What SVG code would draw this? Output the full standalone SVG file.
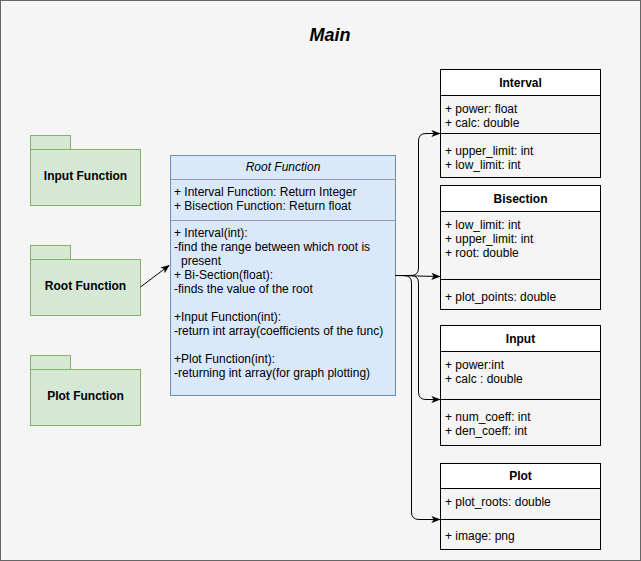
<svg xmlns="http://www.w3.org/2000/svg" width="641" height="561" viewBox="0 0 641 561">
<defs>
<style>
text{font-family:"Liberation Sans",Arial,Helvetica,sans-serif;font-size:12px;fill:#000}
.b{font-weight:bold}
.c{text-anchor:middle}
.pkg{fill:#d5e8d4;stroke:#82b366;stroke-width:1}
.cls{fill:#f5f5f5;stroke:#000;stroke-width:1}
.hdr{fill:#ffffff;stroke:#000;stroke-width:1}
.sep{stroke:#000;stroke-width:1}
.edge{fill:none;stroke:#000;stroke-width:1}
</style>
<marker id="arr" viewBox="0 0 10 10" refX="9" refY="5" markerWidth="9" markerHeight="9" markerUnits="userSpaceOnUse" orient="auto">
<path d="M0,1 L10,5 L0,9 L2.5,5 Z" fill="#000"/>
</marker>
</defs>
<rect x="0.5" y="0.5" width="640" height="560" fill="#f5f5f5" stroke="#666"/>
<text x="330" y="41" class="b c" style="font-size:18px;font-style:italic">Main</text>

<g id="pkg-input">
<rect class="pkg" x="30.5" y="135.5" width="40" height="14"/>
<rect class="pkg" x="30.5" y="149.5" width="110" height="56"/>
<text x="85.5" y="180" class="b c">Input Function</text>
</g>
<g id="pkg-root">
<rect class="pkg" x="30.5" y="245.5" width="40" height="14"/>
<rect class="pkg" x="30.5" y="259.5" width="110" height="56"/>
<text x="85.5" y="290" class="b c">Root Function</text>
</g>
<g id="pkg-plot">
<rect class="pkg" x="30.5" y="355.5" width="40" height="14"/>
<rect class="pkg" x="30.5" y="369.5" width="110" height="56"/>
<text x="85.5" y="400" class="b c">Plot Function</text>
</g>

<g id="root-function">
<rect x="170.5" y="155.5" width="225" height="240" fill="#dae8fc" stroke="#6c8ebf"/>
<line x1="170.5" y1="179.5" x2="395.5" y2="179.5" stroke="#999"/>
<line x1="170.5" y1="220.5" x2="395.5" y2="220.5" stroke="#999"/>
<text x="283" y="171" class="c" style="font-style:italic">Root Function</text>
<text x="174" y="196">+ Interval Function: Return Integer</text>
<text x="174" y="210">+ Bisection Function: Return float</text>
<text x="174" y="237">+ Interval(int):</text>
<text x="174" y="251">-find the range between which root is</text>
<text x="181" y="265">present</text>
<text x="174" y="279">+ Bi-Section(float):</text>
<text x="174" y="293">-finds the value of the root</text>
<text x="174" y="321">+Input Function(int):</text>
<text x="174" y="335">-return int array(coefficients of the func)</text>
<text x="174" y="363">+Plot Function(int):</text>
<text x="174" y="377">-returning int array(for graph plotting)</text>
</g>

<g id="interval">
<rect class="cls" x="440.5" y="69.5" width="160" height="108"/>
<rect class="hdr" x="440.5" y="69.5" width="160" height="26"/>
<line class="sep" x1="440.5" y1="133.5" x2="600.5" y2="133.5"/>
<text x="520.5" y="87" class="b c">Interval</text>
<text x="445" y="113">+ power: float</text>
<text x="445" y="127">+ calc: double</text>
<text x="445" y="155">+ upper_limit: int</text>
<text x="445" y="169">+ low_limit: int</text>
</g>
<g id="bisection">
<rect class="cls" x="440.5" y="185.5" width="160" height="124"/>
<rect class="hdr" x="440.5" y="185.5" width="160" height="26"/>
<line class="sep" x1="440.5" y1="279.5" x2="600.5" y2="279.5"/>
<text x="520.5" y="203" class="b c">Bisection</text>
<text x="445" y="229">+ low_limit: int</text>
<text x="445" y="243">+ upper_limit: int</text>
<text x="445" y="257">+ root: double</text>
<text x="445" y="301">+ plot_points: double</text>
</g>
<g id="input">
<rect class="cls" x="440.5" y="325.5" width="160" height="120"/>
<rect class="hdr" x="440.5" y="325.5" width="160" height="26"/>
<line class="sep" x1="440.5" y1="399.5" x2="600.5" y2="399.5"/>
<text x="520.5" y="343" class="b c">Input</text>
<text x="445" y="369">+ power:int</text>
<text x="445" y="383">+ calc : double</text>
<text x="445" y="421">+ num_coeff: int</text>
<text x="445" y="435">+ den_coeff: int</text>
</g>
<g id="plot">
<rect class="cls" x="440.5" y="463.5" width="160" height="86"/>
<rect class="hdr" x="440.5" y="463.5" width="160" height="25"/>
<line class="sep" x1="440.5" y1="519.5" x2="600.5" y2="519.5"/>
<text x="520.5" y="480" class="b c">Plot</text>
<text x="445" y="506">+ plot_roots: double</text>
<text x="445" y="540">+ image: png</text>
</g>

<g id="connectors">
<path class="edge" d="M140.5,287 L169,265.5" marker-end="url(#arr)"/>
<path class="edge" d="M395.5,275.5 L411,275.5 Q418.5,275.5 418.5,268 L418.5,141 Q418.5,133.5 426,133.5 L439.5,133.5" marker-end="url(#arr)"/>
<path class="edge" d="M395.5,275.5 L439.5,276.5" marker-end="url(#arr)"/>
<path class="edge" d="M395.5,275.5 L404,275.5 Q411.5,275.5 411.5,283 L411.5,512 Q411.5,519.5 419,519.5 L439.5,519.5" marker-end="url(#arr)"/>
<path class="edge" d="M395.5,275.5 L411,275.5 Q418.5,275.5 418.5,283 L418.5,392 Q418.5,399.5 426,399.5 L439.5,399.5" marker-end="url(#arr)"/>
</g>
</svg>
